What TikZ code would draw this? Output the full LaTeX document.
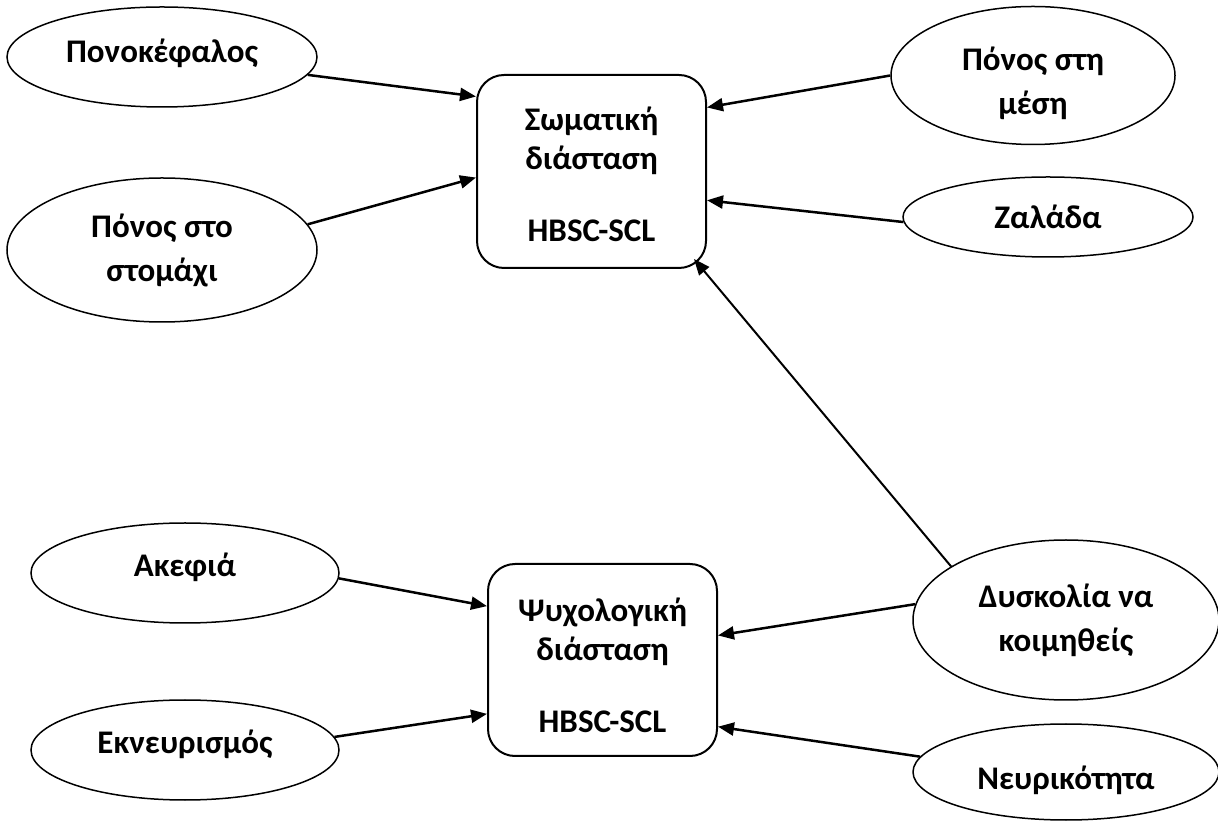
\documentclass[tikz,border=0pt]{standalone}
\usepackage{fontspec}
\setmainfont{Carlito}
\usetikzlibrary{shapes.geometric,arrows.meta}
\newcommand\shft[2]{\raisebox{#1}[\height][\depth]{#2}}
\begin{document}
\begin{tikzpicture}[x=1pt,y=1pt,
  lbl/.style={font=\bfseries\fontsize{33}{44}\selectfont, align=center},
  oval/.style={ellipse, draw, line width=1.5pt, inner sep=0pt, lbl},
  dimbox/.style={rectangle, rounded corners=27pt, draw, line width=2pt, inner sep=0pt, align=center, font=\bfseries\fontsize{33}{39}\selectfont},
  arr/.style={-{Triangle[length=16pt,width=13pt]}, line width=2.5pt}]
\fill[white] (0,0) rectangle (1218,822);
\useasboundingbox (0,0) rectangle (1218,822);
\node[oval, minimum width=310pt, minimum height=100pt] (pono) at (162,765) {\shft{4pt}{Πονοκέφαλος}};
\node[oval, minimum width=310pt, minimum height=144pt] (stom) at (162,572) {Πόνος στο\\στομάχι};
\node[dimbox, minimum width=229pt, minimum height=193pt] (sw) at (591.5,650.5) {\shft{-3pt}{Σωματική}\\\shft{-3pt}{διάσταση}\\[33pt]\shft{-3pt}{HBSC-SCL}};
\node[oval, minimum width=284pt, minimum height=138pt] (mesi) at (1033,746.5) {\shft{-8pt}{Πόνος στη}\\\shft{-8pt}{μέση}};
\node[oval, minimum width=290pt, minimum height=80pt] (zal) at (1048,605) {Ζαλάδα};
\node[oval, minimum width=306pt, minimum height=160pt] (dys) at (1066,202) {Δυσκολία να\\κοιμηθείς};
\node[oval, minimum width=306pt, minimum height=96pt] (neur) at (1066,50) {\shft{-8pt}{Νευρικότητα}};
\node[oval, minimum width=308pt, minimum height=100pt] (ake) at (185,249) {\shft{6pt}{Ακεφιά}};
\node[oval, minimum width=308pt, minimum height=100pt] (ekn) at (185,72) {\shft{6pt}{Εκνευρισμός}};
\node[dimbox, minimum width=229pt, minimum height=192pt] (psy) at (602.5,162) {\shft{-5pt}{Ψυχολογική}\\\shft{-5pt}{διάσταση}\\[33pt]\shft{-5pt}{HBSC-SCL}};
\draw[arr] (pono.-7) -- (sw.147);
\draw[arr] (stom.10) -- (sw.183);
\draw[arr] (mesi.180) -- (sw.29);
\draw[arr] (zal.182) -- (sw.-14);
\draw[arr, line width=2pt] (dys.155) -- ([shift={(-13,10)}]sw.south east);
\draw[arr] (ake.-2) -- (psy.155);
\draw[arr] (ekn.5) -- (psy.205);
\draw[arr] (dys.174) -- (psy.12);
\draw[arr] (neur.174) -- (psy.-30);
\end{tikzpicture}
\end{document}
